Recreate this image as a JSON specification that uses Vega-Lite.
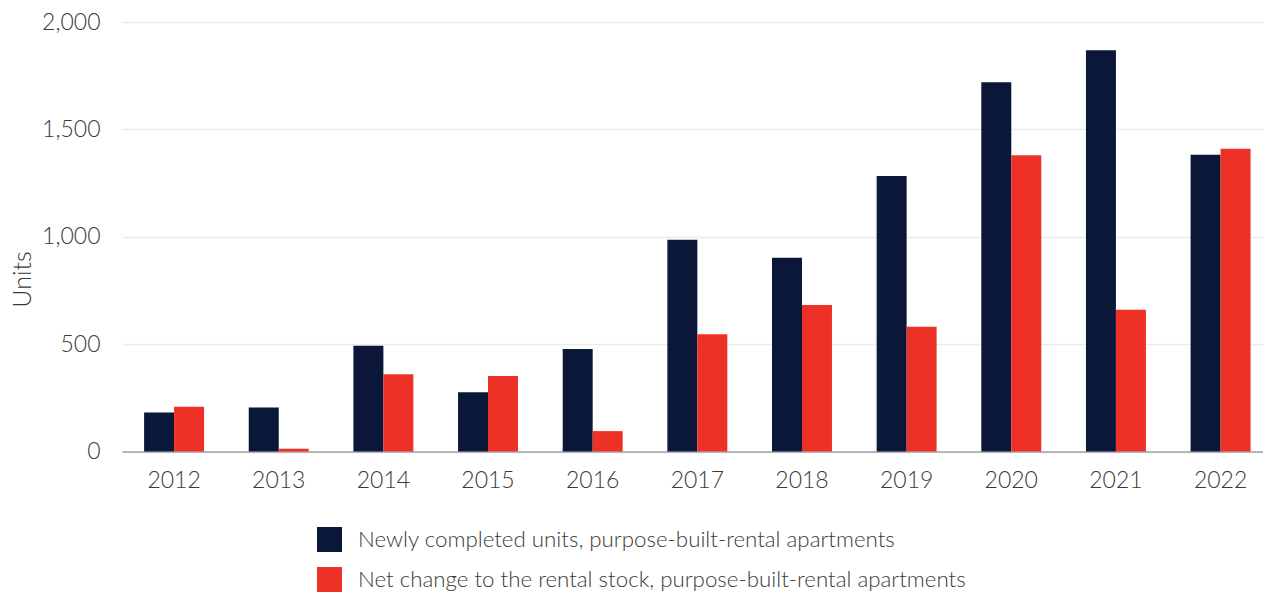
{
  "$schema": "https://vega.github.io/schema/vega-lite/v6.json",
  "autosize": "none",
  "width": 1141,
  "height": 429.5,
  "padding": {"left": 122, "top": 22, "right": 0, "bottom": 140.5},
  "background": "white",
  "config": {
    "view": {"stroke": null},
    "font": "Lato"
  },
  "data": {
    "values": [
      {"year": "2012", "series": "Newly completed units, purpose-built-rental apartments", "value": 182},
      {"year": "2012", "series": "Net change to the rental stock, purpose-built-rental apartments", "value": 208},
      {"year": "2013", "series": "Newly completed units, purpose-built-rental apartments", "value": 205},
      {"year": "2013", "series": "Net change to the rental stock, purpose-built-rental apartments", "value": 13},
      {"year": "2014", "series": "Newly completed units, purpose-built-rental apartments", "value": 493},
      {"year": "2014", "series": "Net change to the rental stock, purpose-built-rental apartments", "value": 360},
      {"year": "2015", "series": "Newly completed units, purpose-built-rental apartments", "value": 276},
      {"year": "2015", "series": "Net change to the rental stock, purpose-built-rental apartments", "value": 351},
      {"year": "2016", "series": "Newly completed units, purpose-built-rental apartments", "value": 477},
      {"year": "2016", "series": "Net change to the rental stock, purpose-built-rental apartments", "value": 95},
      {"year": "2017", "series": "Newly completed units, purpose-built-rental apartments", "value": 986},
      {"year": "2017", "series": "Net change to the rental stock, purpose-built-rental apartments", "value": 546},
      {"year": "2018", "series": "Newly completed units, purpose-built-rental apartments", "value": 902},
      {"year": "2018", "series": "Net change to the rental stock, purpose-built-rental apartments", "value": 682},
      {"year": "2019", "series": "Newly completed units, purpose-built-rental apartments", "value": 1283},
      {"year": "2019", "series": "Net change to the rental stock, purpose-built-rental apartments", "value": 581},
      {"year": "2020", "series": "Newly completed units, purpose-built-rental apartments", "value": 1719},
      {"year": "2020", "series": "Net change to the rental stock, purpose-built-rental apartments", "value": 1379},
      {"year": "2021", "series": "Newly completed units, purpose-built-rental apartments", "value": 1868},
      {"year": "2021", "series": "Net change to the rental stock, purpose-built-rental apartments", "value": 660},
      {"year": "2022", "series": "Newly completed units, purpose-built-rental apartments", "value": 1382},
      {"year": "2022", "series": "Net change to the rental stock, purpose-built-rental apartments", "value": 1410}
    ]
  },
  "mark": {"type": "bar"},
  "encoding": {
    "x": {
      "field": "year",
      "type": "nominal",
      "scale": {"paddingInner": 0.427, "paddingOuter": 0.165, "align": 0.64},
      "axis": {
        "title": null,
        "labelAngle": 0,
        "labelFontSize": 23,
        "labelFontWeight": 300,
        "labelColor": "#3a3a3a",
        "labelPadding": 18,
        "ticks": false,
        "domainColor": "#a0a0a8",
        "domainWidth": 1.5,
        "grid": false
      }
    },
    "xOffset": {
      "field": "series",
      "type": "nominal",
      "sort": ["Newly completed units, purpose-built-rental apartments", "Net change to the rental stock, purpose-built-rental apartments"],
      "scale": {"paddingInner": 0, "paddingOuter": 0}
    },
    "y": {
      "field": "value",
      "type": "quantitative",
      "scale": {"domain": [0, 2000]},
      "axis": {
        "title": "Units",
        "titleFontSize": 25,
        "titleFontWeight": 300,
        "titleColor": "#3a3a3a",
        "titleX": -100,
        "titleY": 257,
        "titleAngle": -90,
        "titleAlign": "center",
        "titleBaseline": "middle",
        "values": [0, 500, 1000, 1500, 2000],
        "format": ",d",
        "labelFontSize": 23,
        "labelFontWeight": 300,
        "labelColor": "#3a3a3a",
        "labelPadding": 22,
        "ticks": false,
        "domain": false,
        "gridColor": "#ebebeb",
        "gridWidth": 1.5
      }
    },
    "color": {
      "field": "series",
      "type": "nominal",
      "sort": ["Newly completed units, purpose-built-rental apartments", "Net change to the rental stock, purpose-built-rental apartments"],
      "scale": {
        "domain": ["Newly completed units, purpose-built-rental apartments", "Net change to the rental stock, purpose-built-rental apartments"],
        "range": ["#0b1739", "#ee3126"]
      },
      "legend": {
        "orient": "none",
        "legendX": 195,
        "legendY": 505,
        "title": null,
        "padding": 0,
        "direction": "vertical",
        "symbolType": "square",
        "symbolSize": 625,
        "symbolStrokeWidth": 0,
        "symbolOpacity": 1,
        "labelFontSize": 22.3,
        "labelFontWeight": 300,
        "labelColor": "#3a3a3a",
        "labelOffset": 16,
        "labelLimit": 800,
        "rowPadding": 15
      }
    }
  }
}
